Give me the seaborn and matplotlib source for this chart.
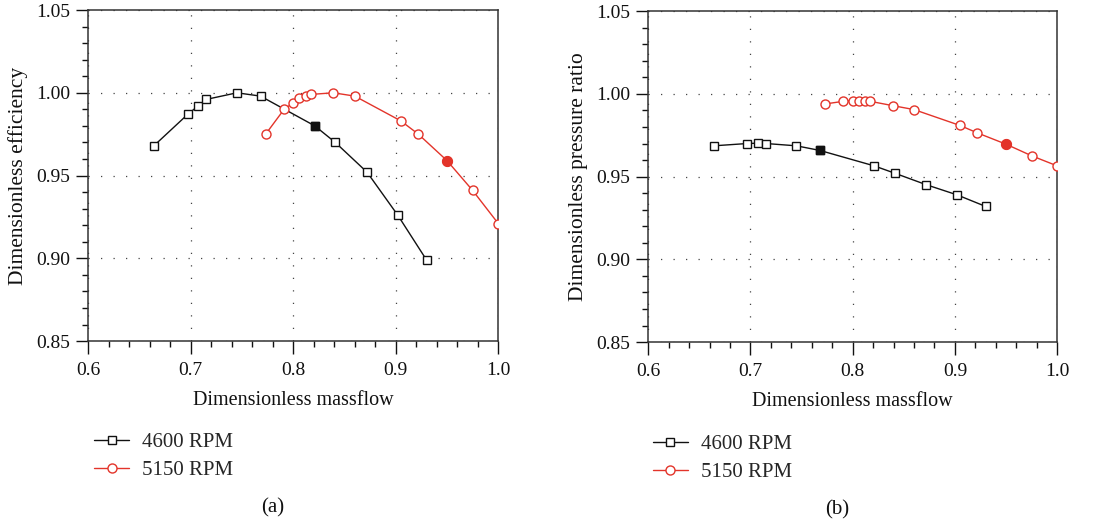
import matplotlib
matplotlib.use("Agg")
import matplotlib.pyplot as plt
from matplotlib.ticker import MultipleLocator, FormatStrFormatter
import seaborn as sns
import pandas as pd

# ---- data ----
mass_4600 = [0.664, 0.697, 0.707, 0.715, 0.745, 0.768, 0.821, 0.841, 0.872, 0.902, 0.930]
eff_4600 = [0.968, 0.987, 0.992, 0.996, 1.000, 0.998, 0.980, 0.970, 0.952, 0.926, 0.899]
pr_4600 = [0.9686, 0.9700, 0.9702, 0.9700, 0.9686, 0.9658, 0.9565, 0.9521, 0.9451, 0.9390, 0.9320]

mass_5150 = [0.773, 0.791, 0.800, 0.806, 0.812, 0.817, 0.839, 0.860, 0.905, 0.922, 0.950, 0.975, 1.000]
eff_5150 = [0.975, 0.990, 0.994, 0.997, 0.998, 0.999, 1.000, 0.998, 0.983, 0.975, 0.959, 0.941, 0.921]
pr_5150 = [0.9939, 0.9955, 0.9959, 0.9959, 0.9959, 0.9955, 0.9929, 0.9905, 0.9809, 0.9764, 0.9696, 0.9626, 0.9565]

# index of the highlighted (filled) operating point in each panel
design_eff = {"4600": 6, "5150": 10}
design_pr = {"4600": 5, "5150": 10}

labels = ["4600 RPM", "5150 RPM"]
x_ticks = [0.6, 0.7, 0.8, 0.9, 1.0]
y_ticks = [0.85, 0.90, 0.95, 1.00, 1.05]

BLACK = "#111111"
RED = "#e3342a"

sns.set_theme(style="white")
plt.rcParams["font.family"] = ["Liberation Serif", "DejaVu Serif"]

fig = plt.figure(figsize=(11.11, 5.28), dpi=100)
ax1 = fig.add_axes([0.0795, 0.354, 0.369, 0.627])
ax2 = fig.add_axes([0.5835, 0.352, 0.368, 0.627])

FS_TICK = 14
FS = 15


def draw(ax, y4600, y5150, design, ylabel):
    df4 = pd.DataFrame({"x": mass_4600, "y": y4600})
    df5 = pd.DataFrame({"x": mass_5150, "y": y5150})
    sns.lineplot(data=df4, x="x", y="y", ax=ax, color=BLACK, linewidth=1.0,
                 marker="s", markersize=5.5, markerfacecolor="white",
                 markeredgecolor=BLACK, markeredgewidth=1.0, label=labels[0],
                 sort=False, zorder=3)
    sns.lineplot(data=df5, x="x", y="y", ax=ax, color=RED, linewidth=1.0,
                 marker="o", markersize=6.5, markerfacecolor="white",
                 markeredgecolor=RED, markeredgewidth=1.0, label=labels[1],
                 sort=False, zorder=3)
    i4 = design["4600"]
    i5 = design["5150"]
    sns.scatterplot(x=[mass_4600[i4]], y=[y4600[i4]], ax=ax, marker="s", s=38,
                    color=BLACK, edgecolor=BLACK, linewidth=1, zorder=4, legend=False)
    sns.scatterplot(x=[mass_5150[i5]], y=[y5150[i5]], ax=ax, marker="o", s=50,
                    color=RED, edgecolor=RED, linewidth=1, zorder=4, legend=False)

    ax.set_xlim(x_ticks[0], x_ticks[-1])
    ax.set_ylim(y_ticks[0], y_ticks[-1])
    ax.set_xticks(x_ticks)
    ax.set_yticks(y_ticks)
    ax.xaxis.set_major_formatter(FormatStrFormatter("%.1f"))
    ax.yaxis.set_major_formatter(FormatStrFormatter("%.2f"))
    ax.xaxis.set_minor_locator(MultipleLocator(0.02))
    ax.yaxis.set_minor_locator(MultipleLocator(0.01))
    ax.tick_params(axis="both", which="major", direction="out", length=9,
                   width=1.0, color=BLACK, labelsize=FS_TICK, labelcolor=BLACK,
                   pad=4, bottom=True, left=True)
    ax.tick_params(axis="x", which="major", pad=6)
    ax.tick_params(axis="both", which="minor", direction="out", length=4.5,
                   width=1.0, color=BLACK, bottom=True, left=True)
    ax.grid(True, which="major", linestyle=(0, (1, 9)), color="#444444",
            linewidth=0.9)
    for sp in ax.spines.values():
        sp.set_visible(True)
        sp.set_color("#333333")
        sp.set_linewidth(1.1)
    ax.set_xlabel("Dimensionless massflow", fontsize=14.5, color=BLACK, labelpad=9)
    ax.set_ylabel(ylabel, fontsize=15.5, color=BLACK, labelpad=6)
    ax.set_facecolor("white")
    ax.get_legend().remove()


draw(ax1, eff_4600, eff_5150, design_eff, "Dimensionless efficiency")
draw(ax2, pr_4600, pr_5150, design_pr, "Dimensionless pressure ratio")

for ax, x0, y0 in [(ax1, 0.0845, 0.136), (ax2, 0.5875, 0.132)]:
    h, l = ax.get_legend_handles_labels()
    ax.legend(h, l, loc="center left", bbox_to_anchor=(x0, y0),
              bbox_transform=fig.transFigure, frameon=False, fontsize=FS,
              handlelength=1.7, handletextpad=0.6, labelspacing=0.42,
              borderaxespad=0, borderpad=0)

fig.text(0.2457, 0.038, "(a)", ha="center", va="center", fontsize=FS, color=BLACK)
fig.text(0.7534, 0.034, "(b)", ha="center", va="center", fontsize=FS, color=BLACK)

fig.savefig("out.png", dpi=100, facecolor="white")
